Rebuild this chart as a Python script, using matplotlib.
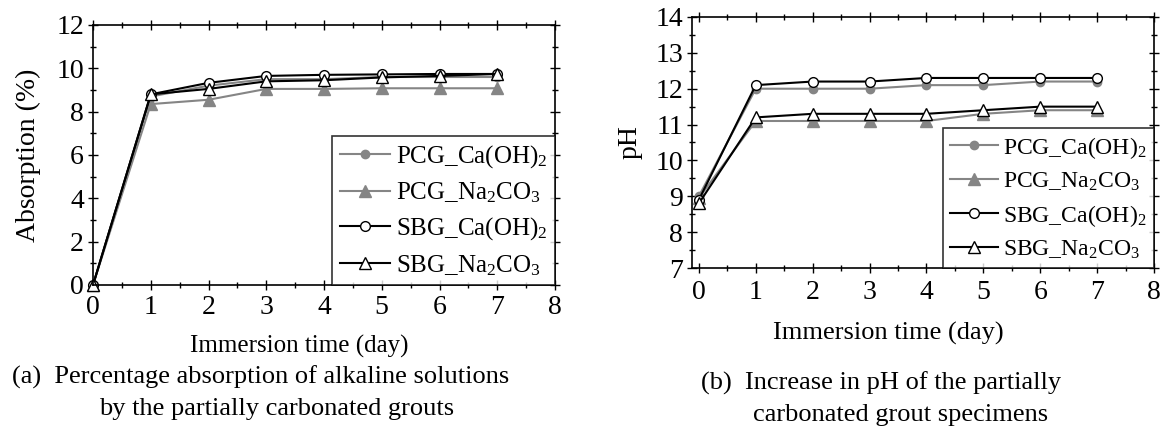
import numpy as np
import matplotlib
matplotlib.use("Agg")
import matplotlib.pyplot as plt
from matplotlib.ticker import MultipleLocator

plt.rcParams['font.family'] = ['Liberation Serif', 'DejaVu Serif']
plt.rcParams['mathtext.fontset'] = 'custom'
plt.rcParams['mathtext.rm'] = 'Liberation Serif'
plt.rcParams['mathtext.it'] = 'Liberation Serif:italic'

days = [0, 1, 2, 3, 4, 5, 6, 7]
labels = [r'PCG_Ca(OH)$_2$', r'PCG_Na$_2$CO$_3$', r'SBG_Ca(OH)$_2$', r'SBG_Na$_2$CO$_3$']

# (a) absorption (%)
abs_pcg_caoh = [0, 8.7, 9.2, 9.5, 9.5, 9.6, 9.6, 9.6]
abs_pcg_na = [0, 8.35, 8.55, 9.05, 9.05, 9.08, 9.08, 9.08]
abs_sbg_caoh = [0, 8.8, 9.33, 9.65, 9.7, 9.72, 9.74, 9.74]
abs_sbg_na = [0, 8.8, 9.05, 9.4, 9.45, 9.58, 9.65, 9.74]

# (b) pH
ph_pcg_caoh = [9.0, 12.0, 12.0, 12.0, 12.1, 12.1, 12.2, 12.2]
ph_pcg_na = [8.95, 11.1, 11.1, 11.1, 11.1, 11.3, 11.4, 11.4]
ph_sbg_caoh = [8.9, 12.1, 12.2, 12.2, 12.3, 12.3, 12.3, 12.3]
ph_sbg_na = [8.8, 11.2, 11.3, 11.3, 11.3, 11.4, 11.5, 11.5]

gray = '#858585'
styles = [
    dict(color=gray, marker='o', mfc=gray, mec=gray, ms=6),
    dict(color=gray, marker='^', mfc=gray, mec=gray, ms=8),
    dict(color='black', marker='o', mfc='white', mec='black', ms=7),
    dict(color='black', marker='^', mfc='white', mec='black', ms=8),
]

W, H = 1163, 433
fig = plt.figure(figsize=(W / 100, H / 100), dpi=100)

def box(x0, y0, x1, y1):
    return [x0 / W, 1 - y1 / H, (x1 - x0) / W, (y1 - y0) / H]

ax1 = fig.add_axes(box(93, 25, 555, 285))
ax2 = fig.add_axes(box(692, 17, 1154, 268))

fs = 20

def style(ax, xpad):
    ax.tick_params(which='both', direction='inout', top=True, right=True, labelsize=fs)
    ax.tick_params(which='major', length=7, width=1)
    ax.tick_params(which='minor', length=4, width=1)
    ax.tick_params(axis='x', pad=xpad)
    ax.tick_params(axis='y', pad=3)
    for s in ax.spines.values():
        s.set_linewidth(1.2)
    ax.xaxis.set_major_locator(MultipleLocator(1))
    ax.xaxis.set_minor_locator(MultipleLocator(0.5))

for ys, st, lab in zip([abs_pcg_caoh, abs_pcg_na, abs_sbg_caoh, abs_sbg_na], styles, labels):
    ax1.plot(days, ys, lw=1.5, label=lab, clip_on=False, **st)
style(ax1, 4)
ax1.set_xlim(0, 8)
ax1.set_ylim(0, 12)
ax1.yaxis.set_major_locator(MultipleLocator(2))
ax1.yaxis.set_minor_locator(MultipleLocator(1))
ax1.set_ylabel('Absorption (%)', fontsize=fs, labelpad=11)

for ys, st, lab in zip([ph_pcg_caoh, ph_pcg_na, ph_sbg_caoh, ph_sbg_na], styles, labels):
    ax2.plot(days, ys, lw=1.5, label=lab, clip_on=False, **st)
style(ax2, 5)
ax2.set_xlim(-0.12, 8)
ax2.set_ylim(7, 14)
ax2.yaxis.set_major_locator(MultipleLocator(1))
ax2.yaxis.set_minor_locator(MultipleLocator(0.5))
ax2.set_ylabel('pH', fontsize=fs, labelpad=9)

for ax, lfs, lsp in ((ax1, 18, 0.42), (ax2, 17, 0.42)):
    leg = ax.legend(loc='lower right', fontsize=lfs, frameon=True, fancybox=False,
                    borderaxespad=0, handlelength=2.0, handletextpad=0.25,
                    labelspacing=lsp, borderpad=0.3)
    leg.get_frame().set_edgecolor('black')
    leg.get_frame().set_linewidth(1.2)

fig.text(299 / W, 1 - 346 / H, 'Immersion time (day)', fontsize=18, ha='center', va='center')
fig.text(888 / W, 1 - 333 / H, 'Immersion time (day)', fontsize=19, ha='center', va='center')

fig.text(261 / W, 1 - 377 / H, '(a)  Percentage absorption of alkaline solutions', fontsize=19, ha='center', va='center')
fig.text(277 / W, 1 - 409 / H, 'by the partially carbonated grouts', fontsize=19, ha='center', va='center')
fig.text(881 / W, 1 - 383 / H, '(b)  Increase in pH of the partially', fontsize=19, ha='center', va='center')
fig.text(901 / W, 1 - 415 / H, 'carbonated grout specimens', fontsize=19, ha='center', va='center')

fig.savefig('out.png', dpi=100)
